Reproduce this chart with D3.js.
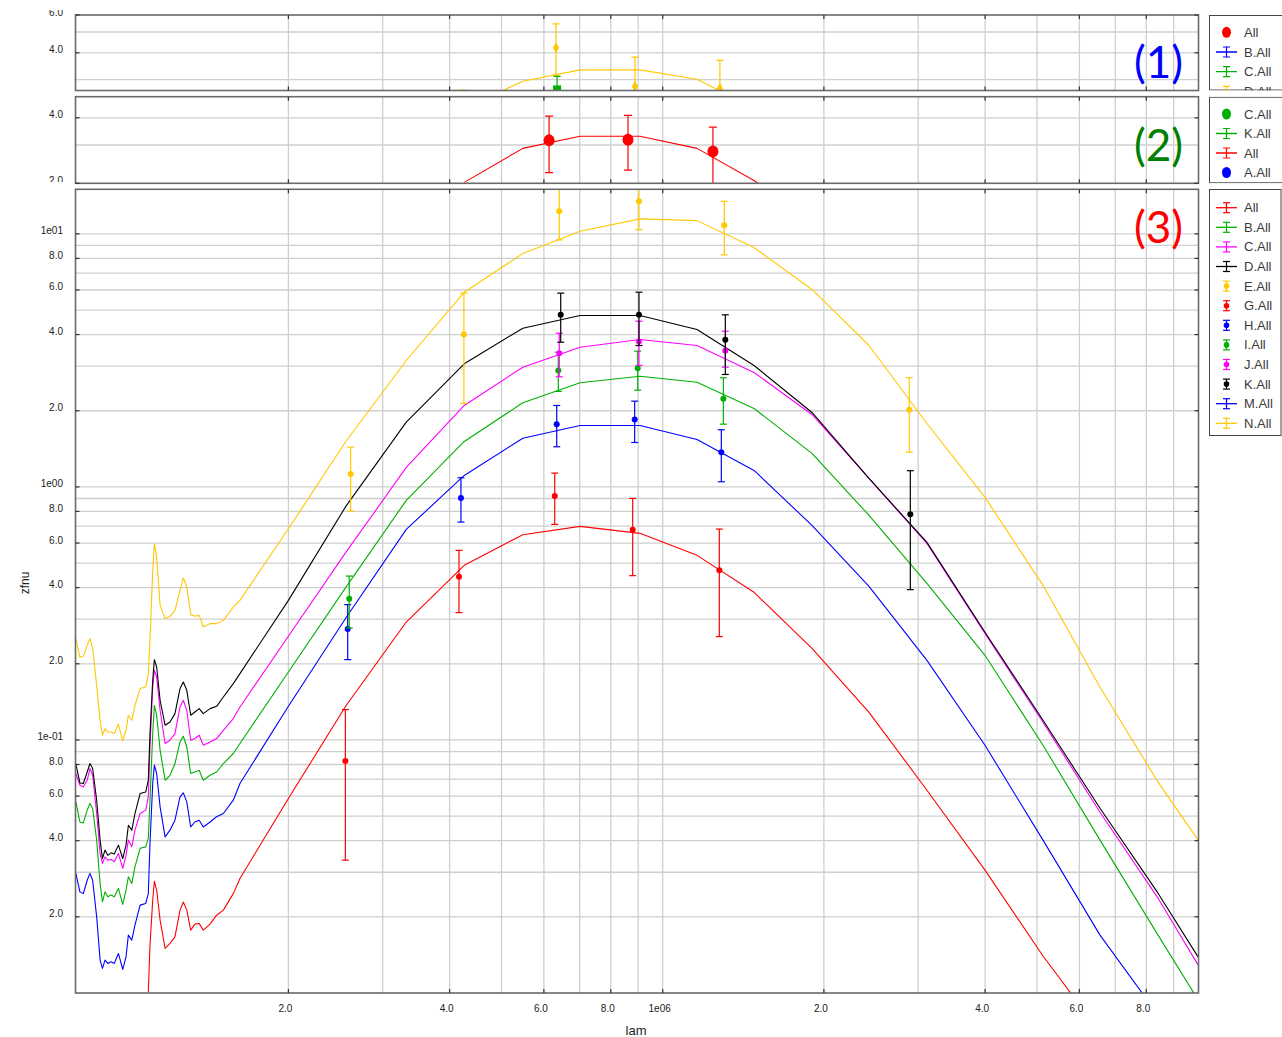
<!DOCTYPE html>
<html>
<head>
<meta charset="utf-8">
<script src="https://cdn.jsdelivr.net/npm/d3@7"></script>
<style>
  html, body { margin: 0; padding: 0; background: #fff; }
  svg { display: block; }
</style>
</head>
<body>
<svg id="chart" width="1282" height="1037"></svg>
<script>
// ---------------------------------------------------------------------------
// Model templates: wavelength grid (lam) shared by every template curve
// ---------------------------------------------------------------------------
const lamGrid = [
  8.02e4, 8.16e4, 8.28e4, 8.42e4, 8.52e4, 8.62e4, 8.77e4, 8.90e4, 8.99e4, 9.09e4,
  9.20e4, 9.33e4, 9.46e4, 9.63e4, 9.81e4, 9.95e4, 1.005e5, 1.020e5, 1.034e5, 1.057e5,
  1.083e5, 1.095e5, 1.103e5, 1.116e5, 1.124e5, 1.135e5, 1.152e5, 1.177e5, 1.202e5, 1.228e5,
  1.255e5, 1.273e5, 1.292e5, 1.314e5, 1.338e5, 1.363e5, 1.387e5, 1.428e5, 1.469e5, 1.512e5,
  1.578e5, 1.624e5,
  2.0e5, 2.56e5, 3.32e5, 4.26e5, 5.48e5, 7.01e5, 9.07e5, 1.159e6, 1.481e6, 1.900e6,
  2.428e6, 3.115e6, 3.998e6, 5.131e6, 6.556e6, 8.414e6, 1.0e7
];

// zfnu of each template on lamGrid
const modelAll = [ // red
  null, null, null, null, null, null, null, null, null, null,
  null, null, null, null, null, null, null, null, null, null,
  null, 0.0101, 0.01546, 0.02328, 0.02766, 0.0255, 0.0194, 0.0150, 0.0157, 0.01667,
  0.02126, 0.0229, 0.02126, 0.01772, 0.01871, 0.01883, 0.01772, 0.01871, 0.0203, 0.02126,
  0.0247, 0.02836,
  0.0587, 0.1362, 0.2924, 0.4898, 0.6475, 0.6982, 0.6553, 0.5364, 0.3832, 0.2302,
  0.1286, 0.0633, 0.0306, 0.0140, 0.0070, 0.0035, 0.0022
];
const modelB = [ // green
  0.0569, 0.0474, 0.0470, 0.0528, 0.0561, 0.0536, 0.0402, 0.0271, 0.0229, 0.0251,
  0.0240, 0.0244, 0.0240, 0.0259, 0.0224, 0.0255, 0.0288, 0.0271, 0.0315, 0.0373,
  0.0378, 0.0409, 0.0578, 0.1060, 0.1371, 0.1252, 0.0911, 0.0693, 0.0725, 0.0807,
  0.0982, 0.1034, 0.0938, 0.0737, 0.0747, 0.0759, 0.0693, 0.0725, 0.0747, 0.0807,
  0.0884, 0.0968,
  0.1856, 0.4010, 0.8845, 1.512, 2.150, 2.579, 2.739, 2.593, 2.042, 1.356,
  0.7718, 0.4158, 0.2160, 0.0953, 0.0402, 0.01693, 0.00938
];
const modelC = [ // magenta
  0.0737, 0.0662, 0.0652, 0.0693, 0.0771, 0.0725, 0.0512, 0.0356, 0.0325, 0.0345,
  0.0335, 0.0337, 0.0330, 0.0356, 0.0311, 0.0350, 0.0402, 0.0378, 0.0440, 0.0512,
  0.0528, 0.0596, 0.0938, 0.1619, 0.1885, 0.1773, 0.1310, 0.0968, 0.0997, 0.1060,
  0.1350, 0.1435, 0.1310, 0.0997, 0.1013, 0.1044, 0.0953, 0.0982, 0.1013, 0.1092,
  0.1215, 0.1350,
  0.2568, 0.5512, 1.194, 2.098, 2.973, 3.565, 3.824, 3.621, 2.833, 1.933,
  1.080, 0.5982, 0.2638, 0.1174, 0.0518, 0.0237, 0.01289
];
const modelD = [ // black
  0.0802, 0.0676, 0.0673, 0.0747, 0.0807, 0.0771, 0.0578, 0.0402, 0.0340, 0.0367,
  0.0350, 0.0358, 0.0354, 0.0384, 0.0340, 0.0384, 0.0460, 0.0440, 0.0512, 0.0614,
  0.0623, 0.0693, 0.1060, 0.1721, 0.2077, 0.1942, 0.1435, 0.1143, 0.1178, 0.1271,
  0.1596, 0.1695, 0.1571, 0.1252, 0.1290, 0.1330, 0.1271, 0.1330, 0.1358, 0.1478,
  0.1670, 0.1829,
  0.3562, 0.8375, 1.803, 3.066, 4.239, 4.757, 4.757, 4.188, 3.019, 1.969,
  1.080, 0.6036, 0.2663, 0.1196, 0.0537, 0.0248, 0.01386
];
const modelM = [ // blue
  0.0297, 0.0251, 0.0247, 0.0279, 0.0297, 0.0279, 0.0200, 0.01349, 0.01251, 0.01349,
  0.01309, 0.01328, 0.01309, 0.01433, 0.01239, 0.01390, 0.01693, 0.01618, 0.01854, 0.02225,
  0.02259, 0.0247, 0.0390, 0.0673, 0.0795, 0.0737, 0.0544, 0.0414, 0.0440, 0.0482,
  0.0596, 0.0618, 0.0569, 0.0453, 0.0474, 0.0482, 0.0453, 0.0474, 0.0497, 0.0512,
  0.0578, 0.0673,
  0.1358, 0.3032, 0.6796, 1.110, 1.558, 1.749, 1.749, 1.540, 1.162, 0.7046,
  0.4046, 0.2064, 0.0953, 0.0402, 0.01693, 0.0082, 0.0045
];
const modelN = [ // yellow
  0.2515, 0.2121, 0.2140, 0.2366, 0.2515, 0.2302, 0.1644, 0.1196, 0.1044, 0.1109,
  0.1075, 0.1075, 0.1060, 0.1153, 0.0991, 0.1092, 0.1252, 0.1196, 0.1371, 0.1596,
  0.1619, 0.1829, 0.2476, 0.4680, 0.5965, 0.5281, 0.3404, 0.3016, 0.3080, 0.3253,
  0.3901, 0.4363, 0.4021, 0.3135, 0.3080, 0.3107, 0.2794, 0.2882, 0.2882, 0.2970,
  0.3352, 0.3562,
  0.6833, 1.512, 3.159, 5.880, 8.36, 10.24, 11.46, 11.28, 8.83, 6.03,
  3.621, 1.781, 0.9090, 0.4083, 0.1615, 0.0681, 0.0402
];

// ---------------------------------------------------------------------------
// Photometry: rows of [lam, zfnu, lower, upper]
// ---------------------------------------------------------------------------
const photE = [ // yellow
  [2.614e5, 1.124, 0.802, 1.436],
  [4.254e5, 4.002, 2.137, 5.83],
  [6.41e5, 12.28, 9.47, 17.0],
  [9.03e5, 13.45, 10.4, 18.0],
  [1.303e6, 10.81, 8.26, 13.45],
  [2.887e6, 2.018, 1.372, 2.70]
];
const photG = [ // red
  [2.555e5, 0.08264, 0.03349, 0.1318],
  [4.165e5, 0.4418, 0.3186, 0.5613],
  [6.286e5, 0.9199, 0.7109, 1.134],
  [8.789e5, 0.6776, 0.4459, 0.9007],
  [1.2757e6, 0.468, 0.2561, 0.6812]
];
const photH = [ // blue
  [2.581e5, 0.2745, 0.2077, 0.3426],
  [4.20e5, 0.9033, 0.7261, 1.087],
  [6.34e5, 1.770, 1.441, 2.098],
  [8.865e5, 1.847, 1.498, 2.182],
  [1.2867e6, 1.372, 1.048, 1.682]
];
const photI = [ // green
  [2.598e5, 0.3618, 0.2769, 0.4443],
  [6.383e5, 2.885, 2.384, 3.407],
  [8.981e5, 2.946, 2.412, 3.438],
  [1.298e6, 2.23, 1.77, 2.70]
];
const photJ = [ // magenta
  [6.41e5, 3.376, 2.724, 4.05],
  [9.03e5, 3.755, 3.02, 4.517],
  [1.309e6, 3.451, 2.973, 4.124]
];
const photK = [ // black
  [6.45e5, 4.787, 3.73, 5.83],
  [9.03e5, 4.787, 3.62, 5.88],
  [1.309e6, 3.815, 2.782, 4.787],
  [2.900e6, 0.779, 0.3927, 1.159]
];

// Upper strips
const stripLam = [4.26e5, 5.48e5, 7.01e5, 9.07e5, 1.159e6, 1.481e6, 1.900e6];
const strip1Curve = [2.2, 2.95, 3.33, 3.33, 3.01, 2.21, 1.6];
const strip1Diamonds = [
  [4.24e5, 2.3, 1.9, 2.68],
  [6.32e5, 4.22, 3.15, 5.45],
  [8.876e5, 2.79, 2.6, 3.82],
  [1.279e6, 2.73, 2.5, 3.69]
];
const strip1Squares = [[6.35e5, 2.73, 2.5, 3.11]];
const strip2Curve = [2.02, 2.894, 3.288, 3.288, 2.894, 2.06, 1.3];
const strip2Points = [
  [6.135e5, 3.15, 2.24, 4.07],
  [8.614e5, 3.17, 2.30, 4.10],
  [1.241e6, 2.80, 1.98, 3.62]
];

// Axis ticks
const xLabelTicks = [2e5, 4e5, 6e5, 8e5, 1e6, 2e6, 4e6, 6e6, 8e6];
const xGridTicks = [2e5, 3e5, 4e5, 5e5, 6e5, 7e5, 8e5, 9e5, 1e6, 2e6, 3e6, 4e6, 5e6, 6e6, 7e6, 8e6, 9e6];
const y3LabelTicks = [10, 8, 6, 4, 2, 1, 0.8, 0.6, 0.4, 0.2, 0.1, 0.08, 0.06, 0.04, 0.02];
const y1LabelTicks = [6, 4];
const y2LabelTicks = [4, 2];

// Legend entries
const legend1 = [["All", "red", "bigdot"], ["B.All", "blue", "line"], ["C.All", "green", "line"], ["D.All", "yellow", "line"]];
const legend2 = [["C.All", "green", "bigdot"], ["K.All", "green", "line"], ["All", "red", "line"], ["A.All", "blue", "bigdot"]];
const legend3 = [
  ["All", "red", "line"], ["B.All", "green", "line"], ["C.All", "magenta", "line"], ["D.All", "black", "line"],
  ["E.All", "yellow", "point"], ["G.All", "red", "point"], ["H.All", "blue", "point"], ["I.All", "green", "point"],
  ["J.All", "magenta", "point"], ["K.All", "black", "point"], ["M.All", "blue", "line"], ["N.All", "yellow", "line"]
];

// ---------------------------------------------------------------------------
const COLORS = {
  red: "#ff0000", green: "#00b000", magenta: "#ff00ff", black: "#000000",
  blue: "#0000ff", yellow: "#ffc800"
};

const svg = d3.select("#chart");
const TICK_FONT = "'Liberation Sans', Arial, sans-serif";

const x = d3.scaleLog().domain([8e4, 1e7]).range([75.3, 1198.2]);
const X0 = 75.5, X1 = 1198.5;

const panels = [
  { key: "p1", top: 15, bottom: 90.5, y: d3.scaleLog().domain([2.67, 6]).range([90.5, 15]),
    grid: [3, 4, 5], labels: y1LabelTicks, labelClip: [10, 95] },
  { key: "p2", top: 96.7, bottom: 183.3, y: d3.scaleLog().domain([2, 5]).range([183.3, 96.7]),
    grid: [3, 4], labels: y2LabelTicks, labelClip: [92, 182] },
  { key: "p3", top: 189.3, bottom: 993, y: d3.scaleLog().domain([0.01, 15]).range([993, 189.3]),
    grid: null, labels: y3LabelTicks, labelClip: [185, 1000] }
];

function yFmt(v) {
  const e = Math.round(Math.log10(v));
  if (Math.abs(Math.pow(10, e) - v) / v < 1e-9) {
    const s = Math.abs(e).toString().padStart(2, "0");
    return "1e" + (e < 0 ? "-" : "") + s;
  }
  const m = v / Math.pow(10, Math.floor(Math.log10(v) + 1e-9));
  return m.toFixed(1);
}

const defs = svg.append("defs");
panels.forEach(p => {
  defs.append("clipPath").attr("id", "clip-" + p.key)
    .append("rect").attr("x", X0).attr("y", p.top).attr("width", X1 - X0).attr("height", p.bottom - p.top);
  defs.append("clipPath").attr("id", "lclip-" + p.key)
    .append("rect").attr("x", 0).attr("y", p.labelClip[0]).attr("width", 75).attr("height", p.labelClip[1] - p.labelClip[0]);
});

// grid lines
panels.forEach(p => {
  const g = svg.append("g").attr("class", "grid");
  let gridVals = p.grid;
  if (!gridVals) {
    gridVals = [];
    for (let k = -2; k <= 1; k++) for (let m = 1; m <= 9; m++) {
      const v = m * Math.pow(10, k);
      if (v > 0.0101 && v < 15) gridVals.push(v);
    }
  }
  g.selectAll("line.h").data(gridVals).join("line")
    .attr("x1", X0).attr("x2", X1)
    .attr("y1", d => p.y(d)).attr("y2", d => p.y(d))
    .attr("stroke", "#cfcfcf").attr("stroke-width", 1.3);
  g.selectAll("line.v").data(xGridTicks).join("line")
    .attr("x1", d => x(d)).attr("x2", d => x(d))
    .attr("y1", p.top).attr("y2", p.bottom)
    .attr("stroke", "#cfcfcf").attr("stroke-width", 1.3);
});

function drawCurve(g, yScale, lams, vals, color, width) {
  const pts = lams.map((l, i) => [l, vals[i]]);
  const line = d3.line().defined(d => d[1] != null).x(d => x(d[0])).y(d => yScale(d[1]));
  g.append("path").datum(pts).attr("d", line)
    .attr("fill", "none").attr("stroke", color).attr("stroke-width", width || 1.1)
    .attr("stroke-linejoin", "round");
}

function drawErrorBars(g, yScale, rows, color, capHalf) {
  const eb = g.append("g");
  eb.selectAll("line.bar").data(rows).join("line")
    .attr("x1", d => x(d[0])).attr("x2", d => x(d[0]))
    .attr("y1", d => yScale(d[2])).attr("y2", d => yScale(d[3]))
    .attr("stroke", color).attr("stroke-width", 1.2);
  [2, 3].forEach(idx => {
    eb.selectAll("line.cap" + idx).data(rows).join("line")
      .attr("x1", d => x(d[0]) - capHalf).attr("x2", d => x(d[0]) + capHalf)
      .attr("y1", d => yScale(d[idx])).attr("y2", d => yScale(d[idx]))
      .attr("stroke", color).attr("stroke-width", 1.2);
  });
  return eb;
}

// ----- panel 3: templates and photometry -----
const p3 = panels[2];
const g3 = svg.append("g").attr("clip-path", "url(#clip-p3)");
drawCurve(g3, p3.y, lamGrid, modelN, COLORS.yellow);
drawCurve(g3, p3.y, lamGrid, modelAll, COLORS.red);
drawCurve(g3, p3.y, lamGrid, modelM, COLORS.blue);
drawCurve(g3, p3.y, lamGrid, modelB, COLORS.green);
drawCurve(g3, p3.y, lamGrid, modelC, COLORS.magenta);
drawCurve(g3, p3.y, lamGrid, modelD, COLORS.black);

[[photE, COLORS.yellow], [photG, COLORS.red], [photH, COLORS.blue], [photI, COLORS.green],
 [photJ, COLORS.magenta], [photK, COLORS.black]].forEach(([rows, c]) => {
  const eb = drawErrorBars(g3, p3.y, rows, c, 3.5);
  eb.selectAll("circle").data(rows).join("circle")
    .attr("cx", d => x(d[0])).attr("cy", d => p3.y(d[1])).attr("r", 3).attr("fill", c);
});

// ----- panel 1 -----
const p1 = panels[0];
const g1 = svg.append("g").attr("clip-path", "url(#clip-p1)");
drawCurve(g1, p1.y, stripLam, strip1Curve, COLORS.yellow);
const eb1 = drawErrorBars(g1, p1.y, strip1Diamonds, COLORS.yellow, 3.5);
eb1.selectAll("path.dia").data(strip1Diamonds).join("path")
  .attr("d", d3.symbol(d3.symbolDiamond, 34))
  .attr("transform", d => `translate(${x(d[0])},${p1.y(d[1])})`)
  .attr("fill", COLORS.yellow);
const ebs = drawErrorBars(g1, p1.y, strip1Squares, COLORS.green, 3.5);
ebs.selectAll("rect").data(strip1Squares).join("rect")
  .attr("x", d => x(d[0]) - 4).attr("y", d => p1.y(d[1]) - 3)
  .attr("width", 8).attr("height", 6).attr("fill", COLORS.green);

// ----- panel 2 -----
const p2 = panels[1];
const g2 = svg.append("g").attr("clip-path", "url(#clip-p2)");
drawCurve(g2, p2.y, stripLam, strip2Curve, COLORS.red);
const eb2 = drawErrorBars(g2, p2.y, strip2Points, COLORS.red, 4);
eb2.selectAll("ellipse").data(strip2Points).join("ellipse")
  .attr("cx", d => x(d[0])).attr("cy", d => p2.y(d[1])).attr("rx", 5.5).attr("ry", 6)
  .attr("fill", COLORS.red);

// ----- frames, ticks and tick labels -----
panels.forEach(p => {
  const g = svg.append("g");
  g.append("rect").attr("x", X0).attr("y", p.top).attr("width", X1 - X0).attr("height", p.bottom - p.top)
    .attr("fill", "none").attr("stroke", "#6a6a6a").attr("stroke-width", 1.6);
  // x ticks (top and bottom, inward)
  g.selectAll("line.xt").data(xLabelTicks).join("line")
    .attr("x1", d => x(d)).attr("x2", d => x(d)).attr("y1", p.top).attr("y2", p.top + 4)
    .attr("stroke", "#333").attr("stroke-width", 1.2);
  g.selectAll("line.xb").data(xLabelTicks).join("line")
    .attr("x1", d => x(d)).attr("x2", d => x(d)).attr("y1", p.bottom).attr("y2", p.bottom - 4)
    .attr("stroke", "#333").attr("stroke-width", 1.2);
  // y ticks (left and right, inward)
  const inRange = p.labels.filter(v => p.y(v) >= p.top - 0.5 && p.y(v) <= p.bottom + 0.5);
  g.selectAll("line.yl").data(inRange).join("line")
    .attr("x1", X0).attr("x2", X0 + 4).attr("y1", d => p.y(d)).attr("y2", d => p.y(d))
    .attr("stroke", "#333").attr("stroke-width", 1.2);
  g.selectAll("line.yr").data(inRange).join("line")
    .attr("x1", X1).attr("x2", X1 - 4).attr("y1", d => p.y(d)).attr("y2", d => p.y(d))
    .attr("stroke", "#333").attr("stroke-width", 1.2);
  // y tick labels
  svg.append("g").attr("clip-path", "url(#lclip-" + p.key + ")")
    .selectAll("text").data(p.labels).join("text")
    .attr("x", 63).attr("y", d => p.y(d) + 0.5)
    .attr("text-anchor", "end")
    .attr("font-family", TICK_FONT).attr("font-size", 10).attr("fill", "#222")
    .text(d => yFmt(d));
});

// x tick labels (bottom panel only)
svg.append("g").selectAll("text").data(xLabelTicks).join("text")
  .attr("x", d => x(d) - 3).attr("y", 1012)
  .attr("text-anchor", "middle")
  .attr("font-family", TICK_FONT).attr("font-size", 10).attr("fill", "#222")
  .text(d => yFmt(d));

// axis titles
svg.append("text").attr("x", 636).attr("y", 1035).attr("text-anchor", "middle")
  .attr("font-family", TICK_FONT).attr("font-size", 13).attr("fill", "#222").text("lam");
svg.append("text").attr("transform", "translate(29,583) rotate(-90)").attr("text-anchor", "middle")
  .attr("font-family", TICK_FONT).attr("font-size", 12).attr("fill", "#222").text("zfnu");

// panel tags
[["(1)", "#0000ff", 78], ["(2)", "#008000", 161], ["(3)", "#ff0000", 243]].forEach(([t, c, yb]) => {
  svg.append("text").attr("x", 1183).attr("y", yb).attr("text-anchor", "end")
    .attr("font-family", "Lato, 'Open Sans', sans-serif").attr("font-size", 44).attr("fill", c).text(t);
});

// ----- legends -----
function drawLegend(entries, top, bottom, right, firstY, step, key) {
  defs.append("clipPath").attr("id", "legclip-" + key)
    .append("rect").attr("x", 1209).attr("y", top).attr("width", 80).attr("height", bottom - top);
  const g = svg.append("g").attr("clip-path", "url(#legclip-" + key + ")");
  g.append("rect").attr("x", 1209.5).attr("y", top + 0.5).attr("width", right - 1209.5).attr("height", bottom - top - 1)
    .attr("fill", "#fff").attr("stroke", "#444").attr("stroke-width", 1);
  const cx = 1226.5;
  entries.forEach(([label, colorKey, kind], i) => {
    const cy = firstY + i * step;
    const c = COLORS[colorKey];
    if (kind === "line") {
      g.append("line").attr("x1", 1216).attr("x2", 1237).attr("y1", cy).attr("y2", cy).attr("stroke", c).attr("stroke-width", 1.3);
    }
    if (kind === "line" || kind === "point") {
      g.append("line").attr("x1", cx).attr("x2", cx).attr("y1", cy - 5).attr("y2", cy + 5).attr("stroke", c).attr("stroke-width", 1.2);
      g.append("line").attr("x1", cx - 3.5).attr("x2", cx + 3.5).attr("y1", cy - 5).attr("y2", cy - 5).attr("stroke", c).attr("stroke-width", 1.2);
      g.append("line").attr("x1", cx - 3.5).attr("x2", cx + 3.5).attr("y1", cy + 5).attr("y2", cy + 5).attr("stroke", c).attr("stroke-width", 1.2);
    }
    if (kind === "point") {
      g.append("circle").attr("cx", cx).attr("cy", cy).attr("r", 2.8).attr("fill", c);
    }
    if (kind === "bigdot") {
      g.append("ellipse").attr("cx", cx).attr("cy", cy).attr("rx", 4.5).attr("ry", 5.5).attr("fill", c);
    }
    g.append("text").attr("x", 1244).attr("y", cy + 4.5)
      .attr("font-family", TICK_FONT).attr("font-size", 13).attr("fill", "#3a3a3a").text(label);
  });
}
drawLegend(legend1, 15, 90.5, 1290, 32.3, 19.7, "l1");
drawLegend(legend2, 96.7, 183.3, 1290, 114, 19.5, "l2");
drawLegend(legend3, 189, 436, 1281, 207.7, 19.6, "l3");
</script>
</body>
</html>
